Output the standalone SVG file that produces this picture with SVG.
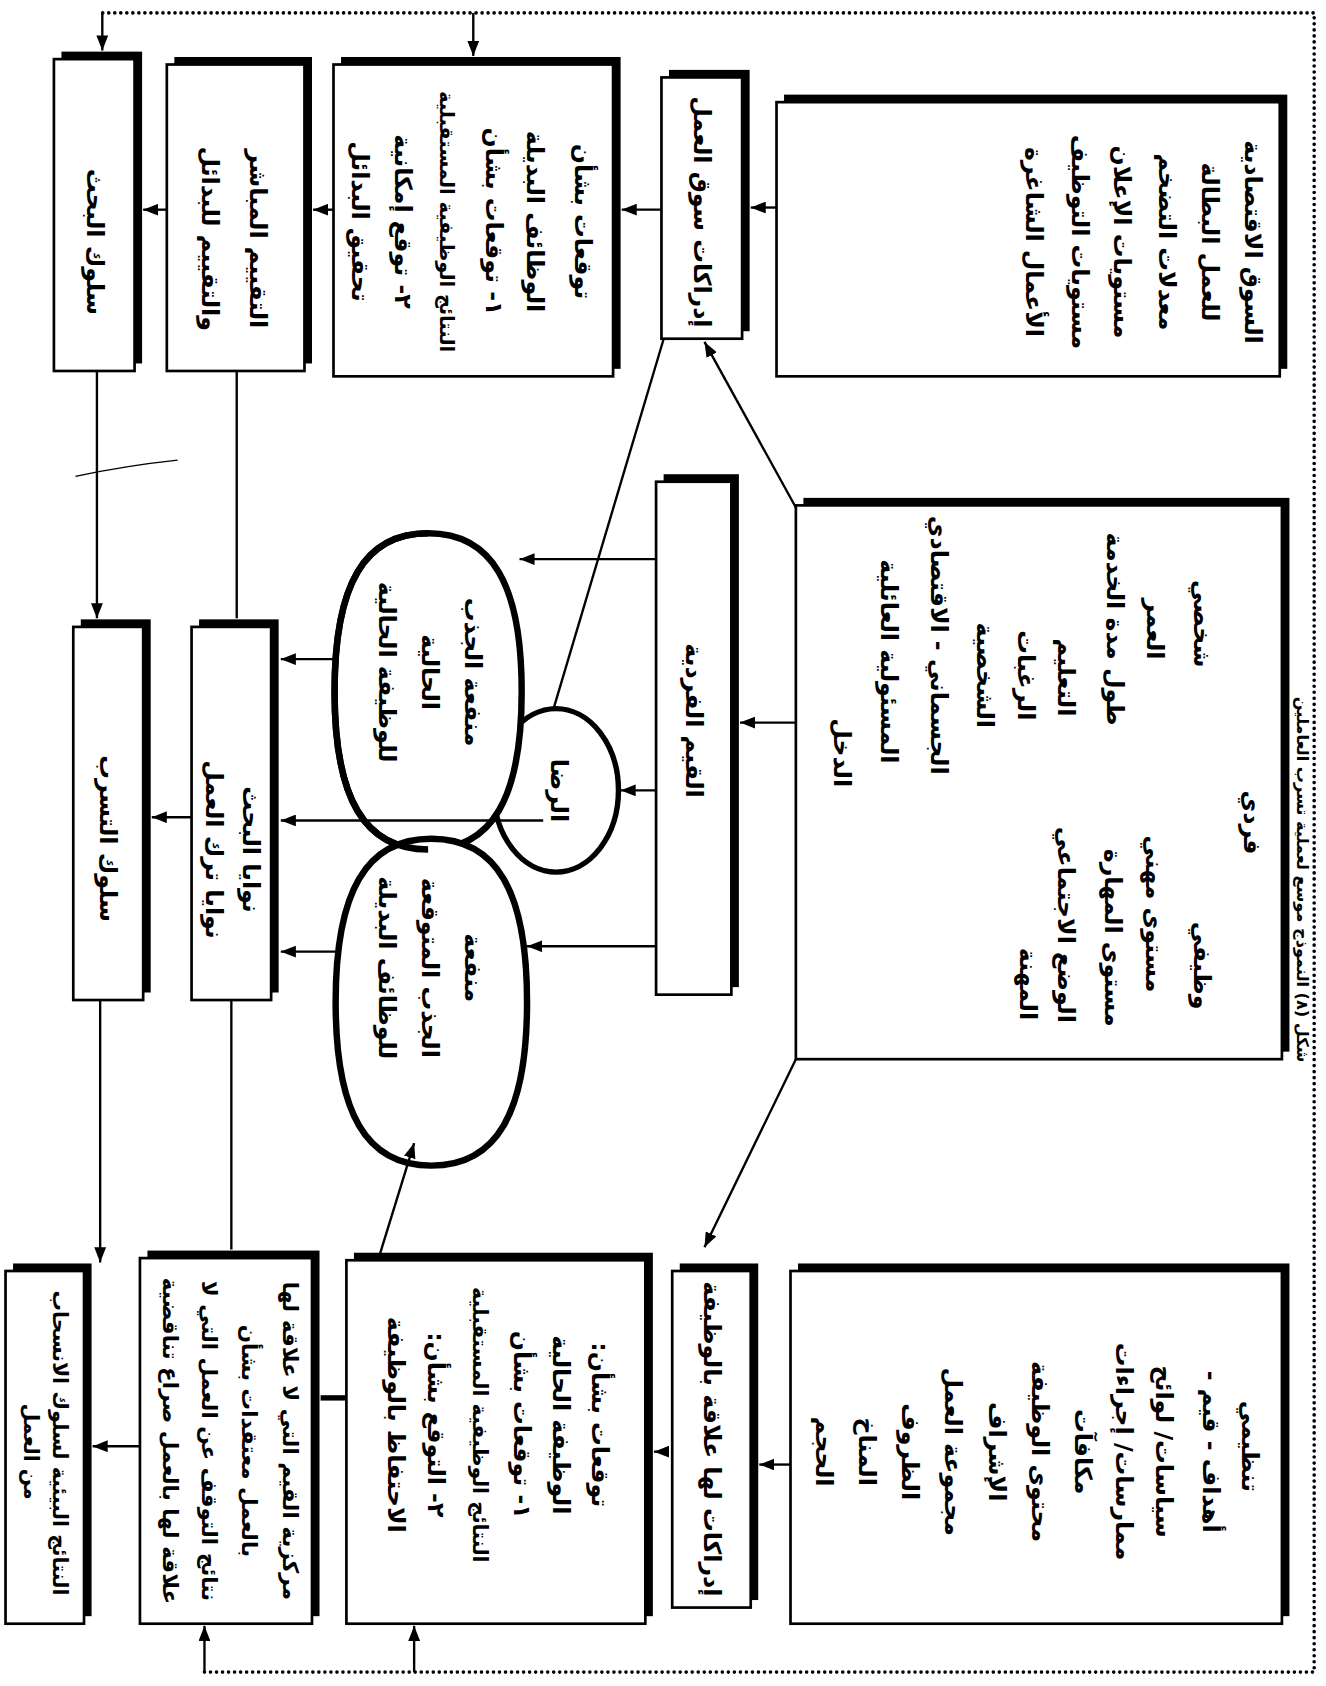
<svg xmlns="http://www.w3.org/2000/svg" width="1326" height="1686" viewBox="0 0 1326 1686">
<style>
.box{fill:#fff;stroke:#000;stroke-width:2.5}
.sh{fill:#000}
.t{font-family:'DejaVu Sans',sans-serif;font-weight:bold;font-size:22px;fill:#000;text-anchor:middle;dominant-baseline:central;direction:rtl;unicode-bidi:embed}
.s20{font-size:20px}
.s19{font-size:19px}
.s18{font-size:18px}
.cap{font-size:15px}
.c{stroke:#000;stroke-width:2.2;fill:none}
.dot{stroke:#000;stroke-width:3.4;stroke-dasharray:0 5.6;stroke-linecap:round;fill:none}
.ov{fill:#fff;stroke:#000;stroke-width:6}
.ovs{fill:none;stroke:#000;stroke-width:6}
</style>
<defs>
<marker id="ah" viewBox="0 0 14 11" refX="14" refY="5.5" markerWidth="14" markerHeight="11" markerUnits="userSpaceOnUse" orient="auto"><path d="M0,0 L14,5.5 L0,11 z" fill="#000"/></marker>
</defs>
<rect x="0" y="0" width="1326" height="1686" fill="#fff"/>
<g transform="translate(1326,0) rotate(90) scale(1.0753)">

<g id="connectors">
<path class="dot" d="M1555,1043 L1555,11 L12,11 L12,1138"/>
<path class="c" d="M12,1138 L47,1138" marker-end="url(#ah)"/>
<path class="c" d="M12,793 L52,793" marker-end="url(#ah)"/>
<path class="c" d="M1555,1043 L1512,1043" marker-end="url(#ah)"/>
<path class="c" d="M1555,848 L1512,848" marker-end="url(#ah)"/>
<path class="c" d="M193,511 L193,535" marker-end="url(#ah)"/>
<path class="c" d="M195,618 L195,655" marker-end="url(#ah)"/>
<path class="c" d="M195,923 L195,942" marker-end="url(#ah)"/>
<path class="c" d="M195,1078 L195,1100" marker-end="url(#ah)"/>
<path class="c" d="M345,1143 L575,1143" marker-end="url(#ah)"/>
<path class="c" d="M345,1013 L575,1013"/>
<path class="c" d="M760,1055 L760,1092" marker-end="url(#ah)"/>
<path class="c" d="M930,1140 L1174,1140" marker-end="url(#ah)"/>
<path class="c" d="M930,1018 L1162,1018"/>
<path class="c" d="M1345,1103 L1345,1147" marker-end="url(#ah)"/>
<path class="c" d="M1300,911 L1300,935" style="stroke-width:5"/>
<path class="c" d="M1350,611 L1350,625" marker-end="url(#ah)"/>
<path class="c" d="M1362,498 L1362,527" marker-end="url(#ah)"/>
<path class="c" d="M672,493 L672,545" marker-end="url(#ah)"/>
<path class="c" d="M472,493 L318,578" marker-end="url(#ah)"/>
<path class="c" d="M985,493 L1160,578" marker-end="url(#ah)"/>
<path class="c" d="M312,615 L688,727"/>
<path class="c" d="M443,1163 Q433,1115 428,1068" style="stroke-width:1.2"/>
</g>

<g id="A1"><rect class="sh" x="48" y="1101" width="290" height="75"/><rect class="box" x="55" y="1108" width="290" height="75"/>
<text class="t" x="225" y="1145">سلوك البحث</text></g>

<g id="A2"><rect class="sh" x="53" y="943" width="285" height="128"/><rect class="box" x="60" y="950" width="285" height="128"/>
<text class="t" x="222" y="993">التقييم المباشر</text>
<text class="t" x="222" y="1038">والتقييم للبدائل</text></g>

<g id="A3"><rect class="sh" x="53" y="656" width="290" height="260"/><rect class="box" x="60" y="663" width="290" height="260"/>
<text class="t" x="206" y="691">توقعات بشأن</text>
<text class="t" x="206" y="736">الوظائف البديلة</text>
<text class="t" x="206" y="774">١- توقعات بشأن</text>
<text class="t s18" x="206" y="818">النتائج الوظيفية المستقبلية</text>
<text class="t" x="206" y="858">٢- توقع إمكانية</text>
<text class="t" x="206" y="898">تحقيق البدائل</text></g>

<g id="A4"><rect class="sh" x="65" y="536" width="243" height="75"/><rect class="box" x="72" y="543" width="243" height="75"/>
<text class="t" x="197" y="580">إدراكات سوق العمل</text></g>

<g id="B1"><rect class="sh" x="88" y="36" width="255" height="468"/><rect class="box" x="95" y="43" width="255" height="468"/>
<text class="t" x="225" y="68">السوق الاقتصادية</text>
<text class="t" x="225" y="108">للعمل البطالة</text>
<text class="t" x="225" y="148">معدلات التضخم</text>
<text class="t" x="225" y="190">مستويات الإعلان</text>
<text class="t" x="225" y="229">مستويات التوظيف</text>
<text class="t" x="225" y="272">الأعمال الشاغرة</text></g>

<g id="B2"><rect class="sh" x="463" y="34" width="515" height="452"/><rect class="box" x="470" y="41" width="515" height="452"/>
<text class="t" x="765" y="69">فردي</text>
<text class="t" x="580" y="115">شخصي</text>
<text class="t" x="585" y="159">العمر</text>
<text class="t" x="585" y="196">طول مدة الخدمة</text>
<text class="t" x="630" y="242">التعليم</text>
<text class="t" x="628" y="279">الرغبات</text>
<text class="t" x="628" y="317">الشخصية</text>
<text class="t" x="600" y="360">الجسماني - الاقتصادي</text>
<text class="t" x="615" y="406">المسئولية العائلية</text>
<text class="t" x="700" y="450">الدخل</text>
<text class="t" x="898" y="115">وظيفي</text>
<text class="t" x="850" y="160">مستوى مهني</text>
<text class="t" x="872" y="198">مستوى المهارة</text>
<text class="t" x="860" y="242">الوضع الاجتماعي</text>
<text class="t" x="915" y="277">المهنة</text></g>

<g id="Q"><rect class="sh" x="441" y="546" width="477" height="70"/><rect class="box" x="448" y="553" width="477" height="70"/>
<text class="t" x="670" y="588">القيم الفردية</text></g>

<g id="satisfaction"><ellipse cx="735" cy="716" rx="76" ry="58" fill="#fff" stroke="#000" stroke-width="5"/>
<text class="t" x="735" y="713">الرضا</text></g>

<g id="E1"><path class="ov" d="M790,835 C790,894.16 742.96,922 643,922 C543.04,922 496,894.16 496,835 C496,775.84 543.04,748 643,748 C742.96,748 790,775.84 790,835 Z"/>
<text class="t" x="625" y="793">منفعة الجذب</text>
<text class="t" x="625" y="833">الحالية</text>
<text class="t" x="625" y="873">للوظيفة الحالية</text></g>

<g id="E2"><path class="ov" d="M1084,832 C1084,892.52 1035.36,921 932,921 C828.64,921 780,892.52 780,832 C780,771.48 828.64,743 932,743 C1035.36,743 1084,771.48 1084,832 Z"/>
<path class="ovs" d="M790,835 C790,894.16 742.96,922 643,922 C543.04,922 496,894.16 496,835"/>
<text class="t" x="900" y="793">منفعة</text>
<text class="t" x="900" y="833">الجذب المتوقعة</text>
<text class="t" x="900" y="873">للوظائف البديلة</text></g>

<g id="connectors-over">
<path class="c" d="M520,623 L520,750" marker-end="url(#ah)"/>
<path class="c" d="M735,623 L735,656" marker-end="url(#ah)"/>
<path class="c" d="M880,623 L880,743" marker-end="url(#ah)"/>
<path class="c" d="M1170,881 L1063,848" marker-end="url(#ah)"/>
<path class="c" d="M613,921 L613,972" marker-end="url(#ah)"/>
<path class="c" d="M763,728 L763,972" marker-end="url(#ah)"/>
<path class="c" d="M885,921 L885,972" marker-end="url(#ah)"/>
</g>

<g id="M1"><rect class="sh" x="576" y="1093" width="347" height="65"/><rect class="box" x="583" y="1100" width="347" height="65"/>
<text class="t" x="780" y="1133">سلوك التسرب</text></g>

<g id="M2"><rect class="sh" x="576" y="974" width="347" height="74"/><rect class="box" x="583" y="981" width="347" height="74"/>
<text class="t" x="790" y="1000">نوايا البحث</text>
<text class="t" x="790" y="1034">نوايا ترك العمل</text></g>

<g id="C1"><rect class="sh" x="1175" y="1148" width="328" height="73"/><rect class="box" x="1182" y="1155" width="328" height="73"/>
<text class="t s19" x="1342" y="1177">النتائج البيئية لسلوك الانسحاب</text>
<text class="t s19" x="1350" y="1204">من العمل</text></g>

<g id="C2"><rect class="sh" x="1163" y="936" width="340" height="160"/><rect class="box" x="1170" y="943" width="340" height="160"/>
<text class="t s20" x="1340" y="963">مركزية القيم التي لا علاقة لها</text>
<text class="t s20" x="1340" y="1001">بالعمل معتقدات بشأن</text>
<text class="t s20" x="1340" y="1038">نتائج التوقف عن العمل التي لا</text>
<text class="t s20" x="1340" y="1075">علاقة لها بالعمل صراع تناقضية</text></g>

<g id="C3"><rect class="sh" x="1165" y="626" width="338" height="278"/><rect class="box" x="1172" y="633" width="338" height="278"/>
<text class="t" x="1325" y="675">توقعات بشأن:</text>
<text class="t" x="1325" y="711">الوظيفة الحالية</text>
<text class="t" x="1325" y="748">١- توقعات بشأن</text>
<text class="t s19" x="1325" y="787">النتائج الوظيفية المستقبلية</text>
<text class="t" x="1325" y="828">٢- التوقع بشأن:</text>
<text class="t" x="1325" y="865">الاحتفاظ بالوظيفة</text></g>

<g id="C4"><rect class="sh" x="1175" y="528" width="313" height="73"/><rect class="box" x="1182" y="535" width="313" height="73"/>
<text class="t" x="1338" y="571">إدراكات لها علاقة بالوظيفة</text></g>

<g id="C5"><rect class="sh" x="1175" y="34" width="328" height="457"/><rect class="box" x="1182" y="41" width="328" height="457"/>
<text class="t" x="1345" y="71">تنظيمي</text>
<text class="t" x="1350" y="107">أهداف - قيم -</text>
<text class="t" x="1350" y="151">سياسات/ لوائح</text>
<text class="t" x="1350" y="188">ممارسات/ إجراءات</text>
<text class="t" x="1350" y="226">مكافآت</text>
<text class="t" x="1350" y="266">محتوى الوظيفة</text>
<text class="t" x="1350" y="306">الإشراف</text>
<text class="t" x="1350" y="347">مجموعة العمل</text>
<text class="t" x="1350" y="387">الظروف</text>
<text class="t" x="1350" y="427">المناخ</text>
<text class="t" x="1350" y="467">الحجم</text></g>

<g id="caption"><text class="t cap" x="818" y="22">شكل (٨) النموذج موسع لعملية تسرب العاملين</text></g>
</g>
</svg>
